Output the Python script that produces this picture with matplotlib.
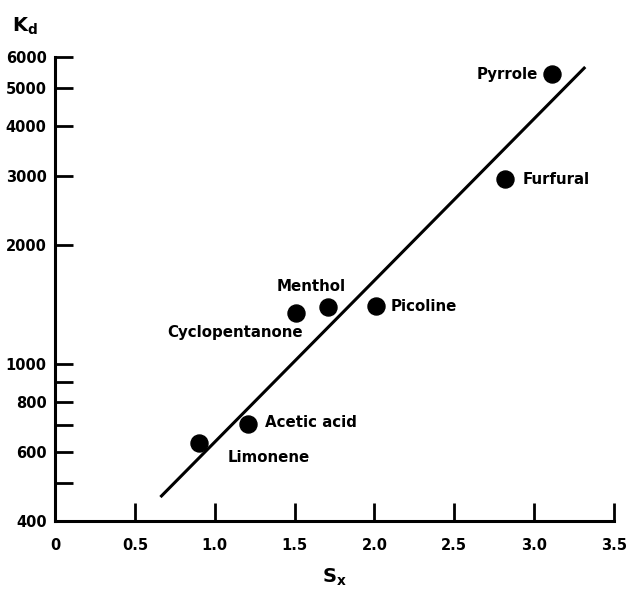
import matplotlib
matplotlib.use("Agg")
import matplotlib.pyplot as plt

# Datos
compuestos = ["Limonene", "Acetic acid", "Cyclopentanone", "Menthol", "Picoline", "Furfural", "Pyrrole"]
sx = [0.90, 1.21, 1.51, 1.71, 2.01, 2.82, 3.11]
kd = [630, 705, 1350, 1395, 1400, 2950, 5430]

# Recta de ajuste (extremos)
recta_x = [0.66, 3.32]
recta_y = [460, 5660]

y_ticks = [400, 500, 600, 700, 800, 900, 1000, 2000, 3000, 4000, 5000, 6000]
y_tick_labels = ["400", "", "600", "", "800", "", "1000", "2000", "3000", "4000", "5000", "6000"]
x_ticks = [0, 0.5, 1.0, 1.5, 2.0, 2.5, 3.0, 3.5]
x_tick_labels = ["0", "0.5", "1.0", "1.5", "2.0", "2.5", "3.0", "3.5"]

# desplazamiento de las etiquetas en pixeles (dx, dy, ha, va)
offsets = {
    "Limonene": (29, -14, "left", "center"),
    "Acetic acid": (17, 1, "left", "center"),
    "Cyclopentanone": (-61, -20, "center", "center"),
    "Menthol": (-17, 20, "center", "center"),
    "Picoline": (15, 0, "left", "center"),
    "Furfural": (17, -1, "left", "center"),
    "Pyrrole": (-14, 0, "right", "center"),
}

plt.rcParams["font.family"] = "DejaVu Sans"
plt.rcParams["font.weight"] = "bold"
plt.rcParams["mathtext.fontset"] = "dejavusans"

fig = plt.figure(figsize=(6.31, 5.92), dpi=100)
ax = fig.add_axes([55 / 631, 1 - 521 / 592, (614 - 55) / 631, (521 - 57) / 592])

ax.plot(recta_x, recta_y, color="black", linewidth=2.2, solid_capstyle="butt")
ax.scatter(sx, kd, s=150, color="black", zorder=3)

for nombre, x, y in zip(compuestos, sx, kd):
    dx, dy, ha, va = offsets[nombre]
    ax.annotate(nombre, (x, y), xytext=(dx, dy), textcoords="offset pixels",
                ha=ha, va=va, fontsize=10.8, fontweight="bold")

ax.set_yscale("log")
ax.set_xlim(0, 3.5)
ax.set_ylim(400, 6000)
ax.set_yticks(y_ticks)
ax.set_yticklabels(y_tick_labels)
ax.minorticks_off()
ax.set_xticks(x_ticks)
ax.set_xticklabels(x_tick_labels)

for lado in ["top", "right"]:
    ax.spines[lado].set_visible(False)
for lado in ["left", "bottom"]:
    ax.spines[lado].set_linewidth(2.2)

ax.tick_params(axis="both", direction="in", length=13, width=2, labelsize=10.5, pad=6)
ax.tick_params(axis="x", pad=12)

ax.set_xlabel(r"$\mathbf{S_x}$", fontsize=14, labelpad=10)
fig.text(12 / 631, 1 - 26 / 592, r"$\mathbf{K_d}$", fontsize=14, ha="left", va="center")

fig.savefig("out.png", dpi=100)
